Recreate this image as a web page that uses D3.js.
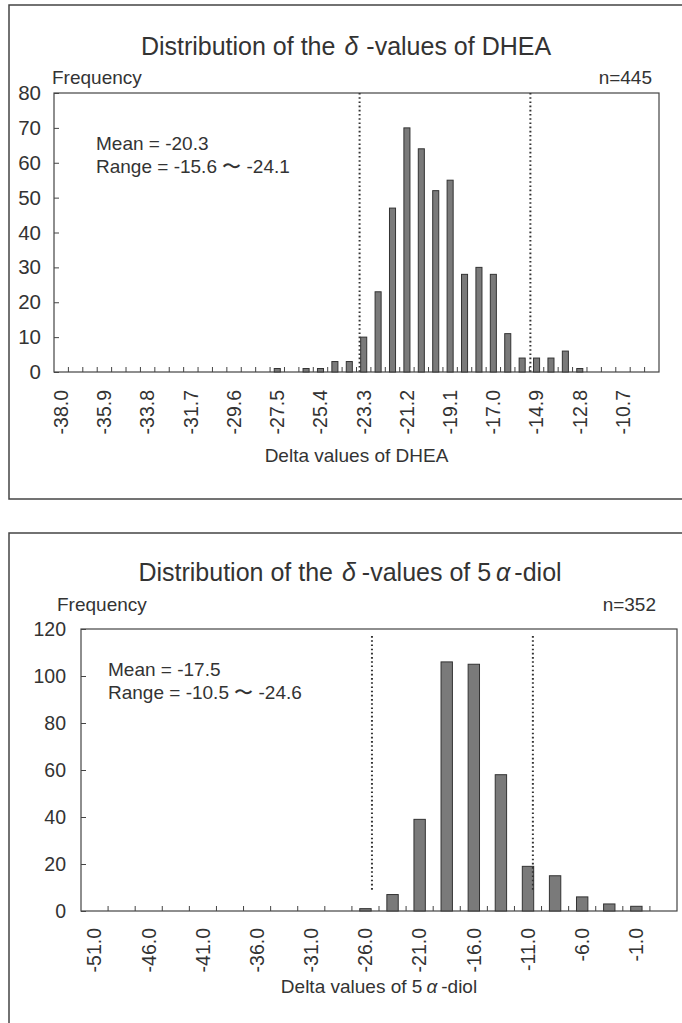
<!DOCTYPE html>
<html>
<head>
<meta charset="utf-8">
<script src="https://cdn.jsdelivr.net/npm/d3@7"></script>
<style>
body { margin: 0; background: #fff; }
text { font-family: "Liberation Sans", Arial, sans-serif; fill: #333; }
</style>
</head>
<body>
<svg id="chart" width="682" height="1023"></svg>
<script>
// DHEA: bins of 0.7
const dheaBins = ['-38.0', '-37.3', '-36.6', '-35.9', '-35.2', '-34.5', '-33.8', '-33.1', '-32.4', '-31.7',
    '-31.0', '-30.3', '-29.6', '-28.9', '-28.2', '-27.5', '-26.8', '-26.1', '-25.4', '-24.7',
    '-24.0', '-23.3', '-22.6', '-21.9', '-21.2', '-20.5', '-19.8', '-19.1', '-18.4', '-17.7',
    '-17.0', '-16.3', '-15.6', '-14.9', '-14.2', '-13.5', '-12.8', '-12.1', '-11.4', '-10.7',
    '-10.0', '-9.3']
const dheaCounts = [0, 0, 0, 0, 0, 0, 0, 0, 0, 0,
    0, 0, 0, 0, 0, 1, 0, 1, 1, 3,
    3, 10, 23, 47, 70, 64, 52, 55, 28, 30,
    28, 11, 4, 4, 4, 6, 1, 0, 0, 0,
    0, 0]
const dheaXLabels = ['-38.0', '-35.9', '-33.8', '-31.7', '-29.6', '-27.5', '-25.4', '-23.3', '-21.2', '-19.1', '-17.0', '-14.9', '-12.8', '-10.7']
const dheaYTicks = [0, 10, 20, 30, 40, 50, 60, 70, 80]
const dheaRefLines = [-23.5, -15.2]
const dheaRefSpan = [0, 80]
const dheaStats = ['Mean = -20.3', 'Range = -15.6 \u301c -24.1']
const dheaN = 'n=445'

// 5a-diol: bins of 2.5
const diolBins = ['-51.0', '-48.5', '-46.0', '-43.5', '-41.0', '-38.5', '-36.0', '-33.5', '-31.0', '-28.5',
    '-26.0', '-23.5', '-21.0', '-18.5', '-16.0', '-13.5', '-11.0', '-8.5', '-6.0', '-3.5',
    '-1.0', '1.5']
const diolCounts = [0, 0, 0, 0, 0, 0, 0, 0, 0, 0,
    1, 7, 39, 106, 105, 58, 19, 15, 6, 3,
    2, 0]
const diolXLabels = ['-51.0', '-46.0', '-41.0', '-36.0', '-31.0', '-26.0', '-21.0', '-16.0', '-11.0', '-6.0', '-1.0']
const diolYTicks = [0, 20, 40, 60, 80, 100, 120]
const diolRefLines = [-25.4, -10.55]
const diolRefSpan = [9, 117]
const diolStats = ['Mean = -17.5', 'Range = -10.5 \u301c -24.6']
const diolN = 'n=352'

const svg = d3.select('#chart')

const drawHistogram = (o) => {
    const g = svg.append('g')
    const { left, right, top, bottom } = o.plot

    // outer panel box
    g.append('rect')
        .attr('x', o.panel[0]).attr('y', o.panel[1])
        .attr('width', o.panel[2]).attr('height', o.panel[3])
        .attr('fill', 'none').attr('stroke', '#444').attr('stroke-width', 1.5)

    const x = d3.scaleBand()
        .domain(o.bins)
        .range([left, right])
        .paddingInner(0.58)
        .paddingOuter(0.29)
    const y = d3.scaleLinear()
        .domain([0, d3.max(o.yTicks)])
        .range([bottom, top])
    const bw = x.bandwidth()
    const gap = (x.step() - bw) / 2

    // value -> position along the category axis
    const xv = d3.scaleLinear()
        .domain([+o.bins[0], +o.bins[o.bins.length - 1]])
        .range([x(o.bins[0]) + bw / 2, x(o.bins[o.bins.length - 1]) + bw / 2])

    g.append('rect')
        .attr('x', left).attr('y', top)
        .attr('width', right - left).attr('height', bottom - top)
        .attr('fill', 'none').attr('stroke', '#444').attr('stroke-width', 1.2)

    const yAxis = g.append('g')
        .attr('transform', `translate(${left},0)`)
        .call(d3.axisLeft(y).tickValues(o.yTicks).tickSize(-5).tickPadding(o.yPad))
    yAxis.select('.domain').remove()
    yAxis.selectAll('line').attr('stroke', '#444')
    yAxis.selectAll('text').attr('font-size', o.yFont).attr('fill', '#333')

    // category tick marks sit between bars
    g.append('g')
        .selectAll('line')
        .data(o.bins.slice(1))
        .join('line')
        .attr('x1', d => x(d) - gap)
        .attr('x2', d => x(d) - gap)
        .attr('y1', bottom)
        .attr('y2', bottom - 5)
        .attr('stroke', '#444')

    const xAxis = g.append('g')
        .attr('transform', `translate(0,${bottom})`)
        .call(d3.axisBottom(x).tickValues(o.xLabels).tickSize(0))
    xAxis.select('.domain').remove()
    xAxis.selectAll('text')
        .attr('font-size', 19.5)
        .attr('fill', '#333')
        .attr('transform', 'rotate(-90)')
        .attr('x', -o.xPad)
        .attr('y', 0)
        .attr('dy', '0.35em')
        .style('text-anchor', 'end')

    g.append('g')
        .selectAll('rect')
        .data(o.bins.map((b, i) => ({ bin: b, count: o.counts[i] })).filter(d => d.count > 0))
        .join('rect')
        .attr('x', d => x(d.bin))
        .attr('y', d => y(d.count))
        .attr('width', bw)
        .attr('height', d => y(0) - y(d.count))
        .attr('fill', '#7a7a7a')
        .attr('stroke', '#333')
        .attr('stroke-width', 1)

    g.append('g')
        .selectAll('line')
        .data(o.refLines)
        .join('line')
        .attr('x1', d => xv(d))
        .attr('x2', d => xv(d))
        .attr('y1', y(o.refSpan[1]))
        .attr('y2', y(o.refSpan[0]))
        .attr('stroke', '#333')
        .attr('stroke-width', 2)
        .attr('stroke-dasharray', '1.6,2.6')

    // title with the greek letters spaced out like the original
    const t = g.append('text')
        .attr('x', o.titleX).attr('y', o.titleY)
        .attr('font-size', 25)
        .attr('text-anchor', 'middle')
    o.title.forEach(p => {
        t.append('tspan').attr('dx', p.dx || 0)
            .style('font-style', p.italic ? 'italic' : 'normal')
            .text(p.s)
    })

    g.append('text')
        .attr('x', o.freqX).attr('y', o.labelY)
        .attr('font-size', 19)
        .text('Frequency')
    g.append('text')
        .attr('x', o.nX).attr('y', o.labelY)
        .attr('font-size', 19)
        .attr('text-anchor', 'end')
        .text(o.n)

    g.append('g')
        .selectAll('text')
        .data(o.stats)
        .join('text')
        .attr('x', o.statsX)
        .attr('y', (d, i) => o.statsY + i * 23)
        .attr('font-size', 19)
        .text(d => d)

    const a = g.append('text')
        .attr('x', (left + right) / 2).attr('y', o.axisTitleY)
        .attr('font-size', 19)
        .attr('text-anchor', 'middle')
    o.axisTitle.forEach(p => {
        a.append('tspan').attr('dx', p.dx || 0)
            .style('font-style', p.italic ? 'italic' : 'normal')
            .text(p.s)
    })
}

drawHistogram({
    panel: [9, 5, 700, 494],
    plot: { left: 54, right: 659, top: 93, bottom: 372 },
    bins: dheaBins, counts: dheaCounts,
    xLabels: dheaXLabels, yTicks: dheaYTicks,
    refLines: dheaRefLines, refSpan: dheaRefSpan,
    stats: dheaStats, n: dheaN,
    yPad: 13, xPad: 18, yFont: 20.5,
    title: [{ s: 'Distribution of the' }, { s: '\u03b4', dx: 9, italic: true }, { s: '-values of DHEA', dx: 8 }],
    titleX: 346, titleY: 55,
    freqX: 52, nX: 652, labelY: 84,
    statsX: 96, statsY: 150,
    axisTitle: [{ s: 'Delta values of DHEA' }],
    axisTitleY: 462
})

drawHistogram({
    panel: [9, 533, 700, 520],
    plot: { left: 81, right: 677, top: 629, bottom: 911 },
    bins: diolBins, counts: diolCounts,
    xLabels: diolXLabels, yTicks: diolYTicks,
    refLines: diolRefLines, refSpan: diolRefSpan,
    stats: diolStats, n: diolN,
    yPad: 15, xPad: 17, yFont: 19.5,
    title: [{ s: 'Distribution of the' }, { s: '\u03b4', dx: 9, italic: true }, { s: '-values of 5', dx: 6 }, { s: '\u03b1', dx: 5, italic: true }, { s: '-diol', dx: 4 }],
    titleX: 350, titleY: 581,
    freqX: 57, nX: 656, labelY: 611,
    statsX: 108, statsY: 676,
    axisTitle: [{ s: 'Delta values of 5' }, { s: '\u03b1', dx: 4, italic: true }, { s: '-diol', dx: 4 }],
    axisTitleY: 993
})
</script>
</body>
</html>
